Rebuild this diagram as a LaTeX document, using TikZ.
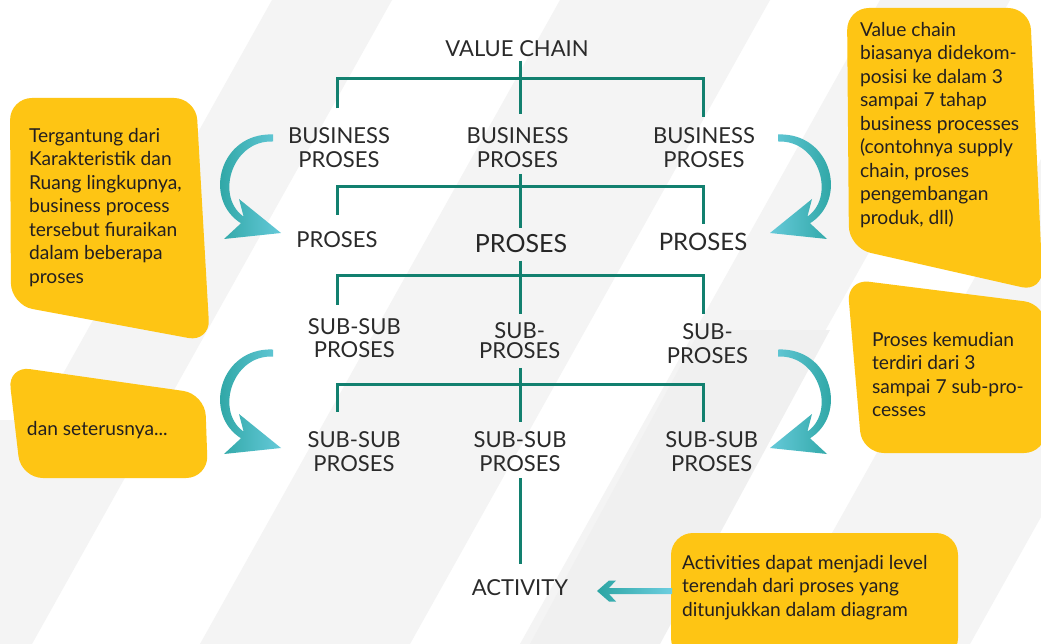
\documentclass[tikz,border=0pt]{standalone}
\usepackage{fontspec}
\setmainfont{Lato}
\usetikzlibrary{calc}
\definecolor{treeC}{HTML}{12806F}
\definecolor{txtC}{HTML}{2A2A2A}
\definecolor{calC}{HTML}{FEC514}
\definecolor{calTxt}{HTML}{231F20}
\definecolor{arrDark}{HTML}{2CA5A3}
\definecolor{arrLight}{HTML}{6DCEE0}
\definecolor{bgA}{HTML}{F4F4F4}
\definecolor{bgB}{HTML}{F0F0F0}
\tikzset{
  tree/.style={draw=treeC, line width=3pt},
  lbl/.style={inner sep=0pt, outer sep=0pt, align=center, text=txtC, font=\fontsize{22}{24.2}\selectfont},
  ctext/.style={inner sep=0pt, outer sep=0pt, align=left, anchor=north west, text=calTxt, font=\fontsize{19.2}{23.5}\selectfont},
  callout/.style={fill=calC, rounded corners=22pt},
}
\begin{document}
\begin{tikzpicture}[x=1pt,y=-1pt]
\useasboundingbox (0,0) rectangle (1041,644);
% background
\begin{scope}
\clip (0,0) rectangle (1041,644);
\fill[white] (0,0) rectangle (1041,644);
\fill[bgA] (272,0) -- (392,0) -- (32,644) -- (-88,644) -- cycle;
\fill[bgA] (560,0) -- (770,0) -- (410,644) -- (200,644) -- cycle;
\fill[bgA] (880,0) -- (1010,0) -- (650,644) -- (520,644) -- cycle;
\fill[bgA] (1130,0) -- (1330,0) -- (970,644) -- (770,644) -- cycle;
\fill[bgB] (700,330) -- (830,330) -- (660,644) -- (530,644) -- cycle;
\fill[bgA] (0,420) -- (60,420) -- (0,530) -- cycle;
\end{scope}
% callouts
\fill[callout] (10,98) -- (196,98) -- (210,342) -- (11,305) -- cycle;
\fill[callout] (847,8) -- (1030,8) -- (1043,292) -- (849,248) -- cycle;
\fill[callout] (847,279) -- (1046,304) -- (1046,453) -- (862,453) -- cycle;
\fill[callout] (8,366) -- (205,394) -- (208,478) -- (21,478) -- cycle;
\fill[callout] (671,533) rectangle (958,660);
% callout texts
\node[ctext] (t1) at (29,128) {Tergantung dari\\Karakteristik dan\\Ruang lingkupnya,\\business process\\tersebut fiuraikan\\dalam beberapa\\proses};
\node[ctext] (t2) at (860,22) {Value chain\\biasanya didekom-\\posisi ke dalam 3\\sampai 7 tahap\\business processes\\(contohnya supply\\chain, proses\\pengembangan\\produk, dll)};
\node[ctext] (t3) at (872,332) {Proses kemudian\\terdiri dari 3\\sampai 7 sub-pro-\\cesses};
\node[ctext] (t4) at (27,421) {dan seterusnya...};
\node[ctext] (t5) at (682,555) {Activities dapat menjadi level\\terendah dari proses yang\\ditunjukkan dalam diagram};
% tree labels
\node[lbl] (vc) at (517,48.5) {VALUE CHAIN};
\node[lbl] (bp1) at (339,147.5) {BUSINESS\\PROSES};
\node[lbl] (bp2) at (517.5,147.5) {BUSINESS\\PROSES};
\node[lbl] (bp3) at (704,147.5) {BUSINESS\\PROSES};
\node[lbl] (p1) at (337,239.7) {PROSES};
\node[lbl, font=\fontsize{25}{27}\selectfont, text=black!85] (p2) at (521,243.7) {PROSES};
\node[lbl, font=\fontsize{24}{26}\selectfont] (p3) at (703,242) {PROSES};
\node[lbl, font=\fontsize{22}{23.7}\selectfont] (sp1) at (354.3,338) {SUB-SUB\\PROSES};
\node[lbl, font=\fontsize{22}{20}\selectfont] (sp2) at (519.7,340.5) {SUB-\\PROSES};
\node[lbl] (sp3) at (707.5,343.3) {SUB-\\PROSES};
\node[lbl] (ss1) at (354,451.7) {SUB-SUB\\PROSES};
\node[lbl] (ss2) at (520,451.7) {SUB-SUB\\PROSES};
\node[lbl] (ss3) at (711.7,451.7) {SUB-SUB\\PROSES};
\node[lbl] (act) at (520,588) {ACTIVITY};
% stems
\coordinate (cL) at (337,0);
\coordinate (cM) at (520,0);
\coordinate (cR) at (703,0);
\coordinate (h1) at (520,79);
\coordinate (h2) at (520,187);
\coordinate (h3) at (520,276);
\coordinate (h4) at (520,384);
\draw[tree] ([yshift=-4pt]vc.south -| cM) -- ([yshift=13pt]bp2.north -| cM);
\draw[tree] ([yshift=19pt]bp1.north -| cL) |- (h1) -| ([yshift=10pt]bp3.north -| cR);
\draw[tree] ([yshift=-6.3pt]bp2.south -| cM) -- ([yshift=7pt]p2.north -| cM);
\draw[tree] ([yshift=16.7pt]p1.north -| cL) |- (h2) -| ([yshift=9.3pt]p3.north -| cR);
\draw[tree] ([yshift=-7.7pt]p2.south -| cM) -- ([yshift=8.3pt]sp2.north -| cM);
\draw[tree] ([yshift=13.3pt]sp1.north -| cL) |- (h3) -| ([yshift=9.3pt]sp3.north -| cR);
\draw[tree] ([yshift=-9.3pt]sp2.south -| cM) -- ([yshift=9.7pt]ss2.north -| cM);
\draw[tree] ([yshift=19.7pt]ss1.north -| cL) |- (h4) -| ([yshift=9.7pt]ss3.north -| cR);
\draw[tree] ([yshift=-6.3pt]ss2.south -| cM) -- ([yshift=16.3pt]act.north -| cM);
% curved arrows
\foreach \dy in {0,215}{
\begin{scope}[shift={(0,\dy)}]
\clip (273,134.5) .. controls (219.2,132.3) and (201.9,200.5) .. (242.2,224) -- (245.8,218) .. controls (214.1,199.5) and (230.8,139.7) .. (273,141.5) -- cycle
      (281,233) -- (239,199) -- (244.5,220) -- (224,239) -- cycle;
\shade[left color=arrDark, right color=arrLight] (215,126) rectangle (290,250);
\end{scope}
\begin{scope}[shift={(0,\dy)}]
\clip (778,134.5) .. controls (831.8,132.3) and (849.1,200.5) .. (808.8,224) -- (805.2,218) .. controls (836.9,199.5) and (820.2,139.7) .. (778,141.5) -- cycle
      (770,233) -- (812,199) -- (806.5,220) -- (827,239) -- cycle;
\shade[left color=arrLight, right color=arrDark] (761,126) rectangle (836,250);
\end{scope}
}
% activity arrow
\shade[left color=arrDark, right color=arrLight] (597,591) -- (609,580.5) -- (616,580.5) -- (609,588) -- (672,588) -- (672,594) -- (609,594) -- (616,601.5) -- (609,601.5) -- cycle;
\end{tikzpicture}
\end{document}
